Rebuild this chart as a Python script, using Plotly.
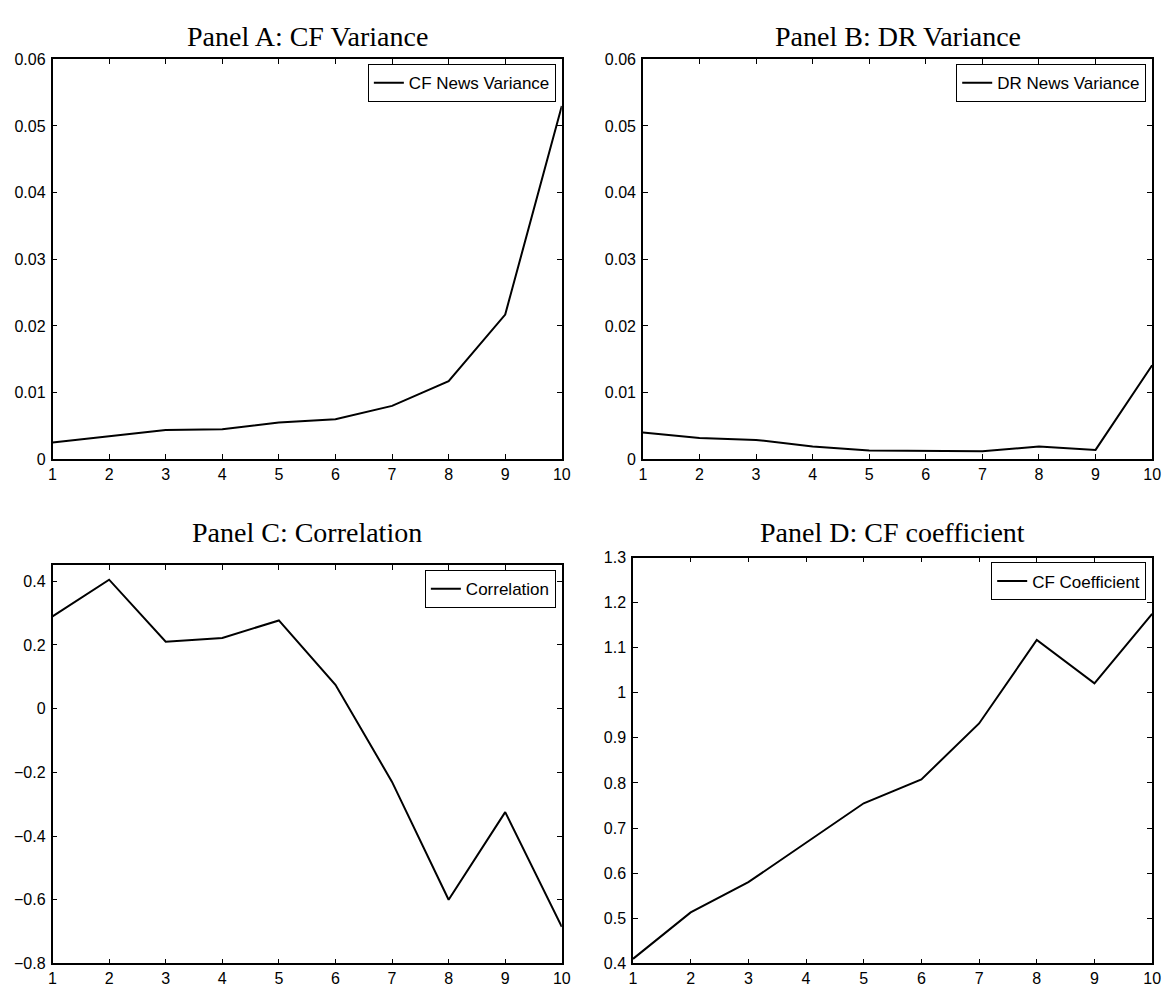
import plotly.graph_objects as go

# The page body has an 8px default margin, so the figure is drawn 8px smaller
# and all pixel positions below (measured on the 1173x994 reference) are shifted.
OFF = 8
W, H = 1173 - OFF, 994 - OFF

portfolios = [1, 2, 3, 4, 5, 6, 7, 8, 9, 10]
cf_news_variance = [0.0025, 0.0035, 0.0044, 0.0045, 0.0055, 0.0060, 0.0080, 0.0117, 0.0217, 0.0530]
dr_news_variance = [0.0040, 0.0032, 0.0029, 0.0019, 0.0013, 0.0012, 0.0012, 0.0019, 0.0014, 0.0141]
correlation = [0.290, 0.405, 0.210, 0.222, 0.277, 0.075, -0.230, -0.600, -0.325, -0.685]
cf_coefficient = [0.410, 0.513, 0.580, 0.668, 0.755, 0.808, 0.932, 1.117, 1.021, 1.175]

panel_titles = ["Panel A: CF Variance", "Panel B: DR Variance",
                "Panel C: Correlation", "Panel D: CF coefficient"]
legend_names = ["CF News Variance", "DR News Variance", "Correlation", "CF Coefficient"]

# pixel boxes on the reference (left, right, top, bottom)
boxes = [(49, 564, 52, 459), (646, 1161, 52, 459), (49, 564, 567, 972), (636, 1161, 559, 972)]
yranges = [[0, 0.06], [0, 0.06], [-0.8, 0.45], [0.4, 1.3]]
ytickvals = [
    [0, 0.01, 0.02, 0.03, 0.04, 0.05, 0.06],
    [0, 0.01, 0.02, 0.03, 0.04, 0.05, 0.06],
    [-0.8, -0.6, -0.4, -0.2, 0, 0.2, 0.4],
    [0.4, 0.5, 0.6, 0.7, 0.8, 0.9, 1.0, 1.1, 1.2, 1.3],
]
yticktext = [
    ["0", "0.01", "0.02", "0.03", "0.04", "0.05", "0.06"],
    ["0", "0.01", "0.02", "0.03", "0.04", "0.05", "0.06"],
    ["\u22120.8", "\u22120.6", "\u22120.4", "\u22120.2", "0", "0.2", "0.4"],
    ["0.4", "0.5", "0.6", "0.7", "0.8", "0.9", "1", "1.1", "1.2", "1.3"],
]
series = [cf_news_variance, dr_news_variance, correlation, cf_coefficient]
title_y = [29, 29, 534, 534]


def px_x(x):
    return (x - OFF) / W


def px_y(y):
    return 1 - (y - OFF) / H


fig = go.Figure()
layout = dict(
    width=W, height=H, margin=dict(l=0, r=0, t=0, b=0),
    paper_bgcolor="white", plot_bgcolor="white",
    font=dict(family="Liberation Sans, Arial, sans-serif", size=16, color="black"),
    annotations=[],
)

for i in range(4):
    l, r, t, b = boxes[i]
    xa = "xaxis" if i == 0 else f"xaxis{i+1}"
    ya = "yaxis" if i == 0 else f"yaxis{i+1}"
    xref = "x" if i == 0 else f"x{i+1}"
    yref = "y" if i == 0 else f"y{i+1}"
    leg = "legend" if i == 0 else f"legend{i+1}"
    fig.add_trace(go.Scatter(
        x=portfolios, y=series[i], mode="lines", name=legend_names[i],
        line=dict(color="black", width=2), xaxis=xref, yaxis=yref,
        legend=leg, showlegend=True,
    ))
    axis_common = dict(
        showline=True, linecolor="black", linewidth=1.5, mirror="ticks",
        ticks="inside", ticklen=5, tickcolor="black", tickwidth=1,
        showgrid=False, zeroline=False,
        tickfont=dict(family="Liberation Sans, Arial, sans-serif", size=16, color="black"),
    )
    layout[xa] = dict(
        domain=[px_x(l), px_x(r)], range=[1, 10], tickvals=portfolios,
        anchor=yref, **axis_common,
    )
    layout[ya] = dict(
        domain=[px_y(b), px_y(t)], range=yranges[i], tickvals=ytickvals[i],
        ticktext=yticktext[i], anchor=xref, ticklabelstandoff=2, **axis_common,
    )
    layout[leg] = dict(
        x=px_x(r - 6), y=px_y(t + 5), xanchor="right", yanchor="top",
        bordercolor="black", borderwidth=1, bgcolor="white",
        font=dict(family="Liberation Sans, Arial, sans-serif", size=17, color="black"),
        itemwidth=30, tracegroupgap=0,
    )
    layout["annotations"].append(dict(
        text=panel_titles[i], xref="paper", yref="paper",
        x=px_x((l + r) / 2), y=px_y(title_y[i]), xanchor="center", yanchor="middle",
        showarrow=False,
        font=dict(family="Liberation Serif, DejaVu Serif, serif", size=28, color="black"),
    ))

fig.update_layout(**layout)
fig.write_html("out.html")
